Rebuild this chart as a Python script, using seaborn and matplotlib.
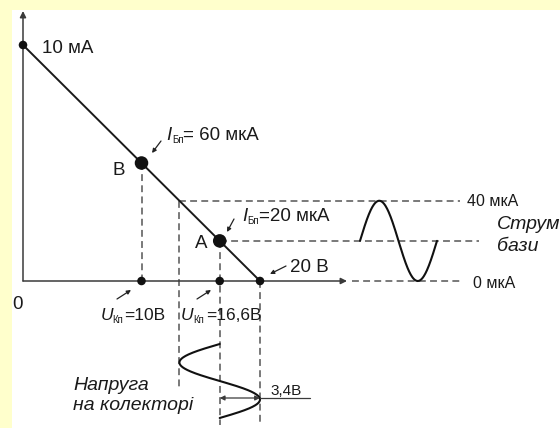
import numpy as np
import matplotlib
matplotlib.use("Agg")
import matplotlib.pyplot as plt
import seaborn as sns
from matplotlib.patches import Rectangle

sns.set_theme(style="white")
plt.rcParams['font.family'] = ['Liberation Sans', 'DejaVu Sans']

# ---------------- data ----------------
load_U = [0, 20]            # V  (load line end points)
load_I = [10, 0]            # mA
axis_U = [0, 10, 16.6, 20]  # V  marks on the axes
axis_I = [10, 0, 0, 0]      # mA
op_names = ['В', 'А']       # operating points
op_U = [10, 16.6]           # V
op_I = [5, 1.7]             # mA
op_Ib = [60, 20]            # µA
Ib_max_U = 13.2             # V at Ib = 40 µA
Ib_max_I = 3.4              # mA at Ib = 40 µA
Ib_levels = [40, 20, 0]     # µA
Ib_mid = 20                 # µA
Ib_amp = 20                 # µA
Uc_mid = 16.6               # V
Uc_amp = 3.4                # V

# ---------------- pixel <-> data mapping ----------------
W, H = 560, 428
X0, Y0 = 23, 281
SX = 237 / 20.0
SY = 236 / 10.0


def px(x, y):
    return ((x - X0) / SX, (Y0 - y) / SY)


def ux(x):
    return (x - X0) / SX


def iy(y):
    return (Y0 - y) / SY


fig = plt.figure(figsize=(W / 100, H / 100), dpi=100)
fig.patch.set_facecolor('#FFFFCC')
fig.add_artist(Rectangle((12 / W, 0), 1 - 12 / W, (H - 10) / H,
                         transform=fig.transFigure, facecolor='white',
                         edgecolor='none', zorder=-10))
ax = fig.add_axes([0, 0, 1, 1])
ax.set_facecolor('none')
ax.set_xlim(ux(0), ux(W))
ax.set_ylim(iy(H), iy(0))
ax.axis('off')

axc = '#3a3a3a'
dc = '#555555'
dash = (0, (4.5, 2.8))
dlw = 1.1

# axes with arrows
ax.annotate('', xy=(0, iy(11)), xytext=(0, 0),
            arrowprops=dict(arrowstyle='-|>', lw=1.1, color=axc,
                            mutation_scale=9, shrinkA=0, shrinkB=0))
ax.annotate('', xy=(ux(347), 0), xytext=(0, 0),
            arrowprops=dict(arrowstyle='-|>', lw=1.1, color=axc,
                            mutation_scale=9, shrinkA=0, shrinkB=0))

# dashed guides
ax.plot([op_U[0], op_U[0]], [op_I[0], 0], ls=dash, color=dc, lw=dlw)
ax.plot([Ib_max_U, Ib_max_U], [Ib_max_I, iy(388)], ls=dash, color=dc, lw=dlw)
ax.plot([op_U[1], op_U[1]], [op_I[1], iy(425)], ls=dash, color=dc, lw=dlw)
ax.plot([load_U[1], load_U[1]], [0, iy(425)], ls=dash, color=dc, lw=dlw)
ax.plot([Ib_max_U, ux(460)], [Ib_max_I, Ib_max_I], ls=dash, color=dc, lw=dlw)
ax.plot([op_U[1], ux(479)], [op_I[1], op_I[1]], ls=dash, color=dc, lw=dlw)
ax.plot([ux(352), ux(463)], [0, 0], ls=dash, color=dc, lw=dlw)

# load line
sns.lineplot(x=load_U, y=load_I, ax=ax, color='#1a1a1a', lw=1.4,
             estimator=None, legend=False)

# points
sns.scatterplot(x=axis_U, y=axis_I, ax=ax, s=38, color='#111111',
                edgecolor='none', zorder=5, legend=False)
sns.scatterplot(x=op_U, y=op_I, ax=ax, s=95, color='#111111',
                edgecolor='none', zorder=5, legend=False)

# base current sine
t = np.linspace(0, 1, 200)
ib = Ib_mid + Ib_amp * np.sin(2 * np.pi * t)
sns.lineplot(x=ux(360) + t * (ux(437) - ux(360)), y=ib * Ib_max_I / 40,
             ax=ax, sort=False, estimator=None, color='#111111', lw=1.5)

# collector voltage sine
uc = Uc_mid - Uc_amp * np.sin(2 * np.pi * t)
sns.lineplot(x=uc, y=iy(344) + t * (iy(418) - iy(344)), ax=ax, sort=False,
             estimator=None, color='#111111', lw=1.5, orient='y')

# amplitude arrow
ax.annotate('', xy=(op_U[1], iy(398)), xytext=(load_U[1], iy(398)),
            arrowprops=dict(arrowstyle='<|-|>', lw=0.9, color=axc,
                            mutation_scale=7, shrinkA=0, shrinkB=0))
ax.plot([load_U[1], ux(310)], [iy(398), iy(398)], color=axc, lw=0.9)


# small arrows
def arrow(tail, head):
    ax.annotate('', xy=px(*head), xytext=px(*tail),
                arrowprops=dict(arrowstyle='-|>', lw=0.9, color='#222222',
                                mutation_scale=6, shrinkA=0, shrinkB=0))


arrow((161, 141), (152, 153))
arrow((234, 219), (227, 232))
arrow((286, 266), (270, 274))
arrow((117, 299), (131, 290))
arrow((197, 299), (211, 290))

tc = '#1a1a1a'
fs = 13.5


def txt(x, y, s, size=fs, style='normal'):
    ax.text(*px(x, y), s, fontsize=size, style=style, ha='left',
            va='baseline', color=tc)


def sublabel(x_main, x_sub, x_rest, y, main, sub, rest, size=fs):
    txt(x_main, y, main, size=size, style='italic')
    txt(x_sub, y + 3, sub, size=7)
    txt(x_rest, y, rest, size=size)


txt(42, 53, '10 мА')
sublabel(166, 172, 183, 140, 'I', 'Бп', '= %d мкА' % op_Ib[0])
sublabel(242, 247, 259, 221, 'I', 'Бп', '=%d мкА' % op_Ib[1])
txt(113, 175, op_names[0])
txt(195, 248, op_names[1])
txt(290, 272, '%d В' % load_U[1])
txt(467, 206, '%d мкА' % Ib_levels[0], size=11.5)
txt(473, 288, '%d мкА' % Ib_levels[2], size=11.5)
txt(497, 229, 'Струм', size=14, style='italic')
txt(497, 251, 'бази', size=14, style='italic')
txt(12, 309, '0')
sublabel(101, 112, 124, 320, 'U', 'Кп', '=%dВ' % op_U[0], size=12.5)
sublabel(181, 193, 206, 320, 'U', 'Кп', '=16,6В', size=12.5)
txt(73, 390, 'Напруга', size=14, style='italic')
txt(73, 410, 'на колекторі', size=14, style='italic')
txt(270, 395, '3,4В', size=11)

fig.savefig('out.png', dpi=100, facecolor=fig.get_facecolor())
